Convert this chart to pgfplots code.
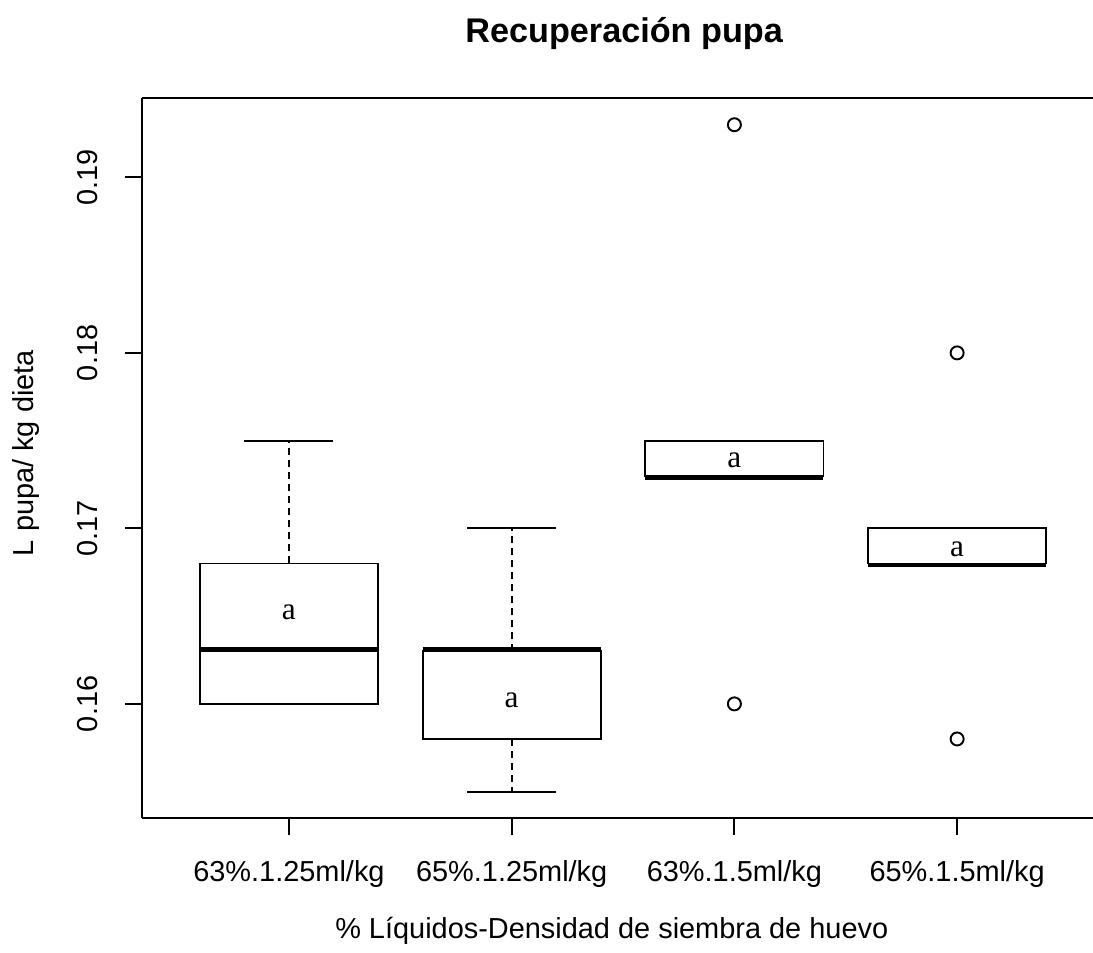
\documentclass[border=0pt]{standalone}
\usepackage{fontspec}
\setmainfont{Liberation Sans}
\newfontfamily\serifa{Liberation Serif}
\usepackage{pgfplots}
\pgfplotsset{compat=1.18}

\begin{document}
\begin{tikzpicture}
\begin{axis}[
  scale only axis, width=394.7pt, height=298.9pt,
  xmin=0.34, xmax=4.61, ymin=0.15348, ymax=0.19452,
  axis x line=box, axis y line=left, axis line style={-, line width=0.8pt},
  xtick pos=left, ytick pos=left, tick align=outside,
  major tick length=7pt, tick style={line width=0.8pt, black},
  xtick={1,2,3,4},
  xticklabels={63\%.1.25ml/kg,65\%.1.25ml/kg,63\%.1.5ml/kg,65\%.1.5ml/kg},
  ytick={0.16,0.17,0.18,0.19}, yticklabels={0.16,0.17,0.18,0.19},
  scaled y ticks=false,
  tick label style={font=\fontsize{12}{14}\selectfont},
  xticklabel style={anchor=base, yshift=-19.4pt},
  yticklabel style={rotate=90, anchor=base, yshift=11.6pt},
  title={\bfseries Recuperación pupa},
  title style={font=\fontsize{14.2}{16}\selectfont, at={(rel axis cs:0.507,1)}, anchor=base, yshift=17.2pt},
  xlabel={\% Líquidos-Densidad de siembra de huevo},
  xlabel style={font=\fontsize{12}{14}\selectfont, at={(rel axis cs:0.494,0)}, anchor=base, yshift=-49.7pt},
  ylabel={L pupa/ kg dieta},
  ylabel style={font=\fontsize{12}{14}\selectfont, at={(rel axis cs:0,0.507)}, anchor=base, yshift=45.2pt},
  every axis plot/.append style={black, line width=0.8pt},
]
% boxes (q1, q3)
\addplot[mark=none] coordinates {(0.6,0.160) (1.4,0.160) (1.4,0.168) (0.6,0.168)} -- cycle;
\addplot[mark=none] coordinates {(1.6,0.158) (2.4,0.158) (2.4,0.163) (1.6,0.163)} -- cycle;
\addplot[mark=none] coordinates {(2.6,0.173) (3.4,0.173) (3.4,0.175) (2.6,0.175)} -- cycle;
\addplot[mark=none] coordinates {(3.6,0.168) (4.4,0.168) (4.4,0.170) (3.6,0.170)} -- cycle;
% medians
\addplot[mark=none, line width=1.8pt] coordinates {(0.6,0.1631) (1.4,0.1631)};
\addplot[mark=none, line width=1.8pt] coordinates {(1.6,0.1631) (2.4,0.1631)};
\addplot[mark=none, line width=1.8pt] coordinates {(2.6,0.1729) (3.4,0.1729)};
\addplot[mark=none, line width=1.8pt] coordinates {(3.6,0.1679) (4.4,0.1679)};
% whiskers
\addplot[mark=none, dash pattern=on 3pt off 2pt] coordinates {(1,0.168) (1,0.175)};
\addplot[mark=none, dash pattern=on 3pt off 2pt] coordinates {(2,0.163) (2,0.170)};
\addplot[mark=none, dash pattern=on 3pt off 2pt] coordinates {(2,0.158) (2,0.155)};
% whisker caps
\addplot[mark=none] coordinates {(0.8,0.175) (1.2,0.175)};
\addplot[mark=none] coordinates {(1.8,0.170) (2.2,0.170)};
\addplot[mark=none] coordinates {(1.8,0.155) (2.2,0.155)};
% outliers
\addplot[only marks, mark=o, mark size=2.7pt] coordinates {(3,0.193) (3,0.160) (4,0.180) (4,0.158)};
% group letters
\addplot[draw=none, mark=none, nodes near coords, point meta=explicit symbolic,
  nodes near coords style={anchor=center, inner sep=0pt, font=\serifa\fontsize{13}{13}\selectfont}]
  coordinates {(1,0.1652)[a] (2,0.1602)[a] (3,0.1739)[a] (4,0.1688)[a]};
\end{axis}
\pgfresetboundingbox
\path[use as bounding box] ([xshift=-58.9pt,yshift=-55.9pt]current axis.south west) rectangle ([yshift=40.7pt]current axis.north east);
\end{tikzpicture}
\end{document}
